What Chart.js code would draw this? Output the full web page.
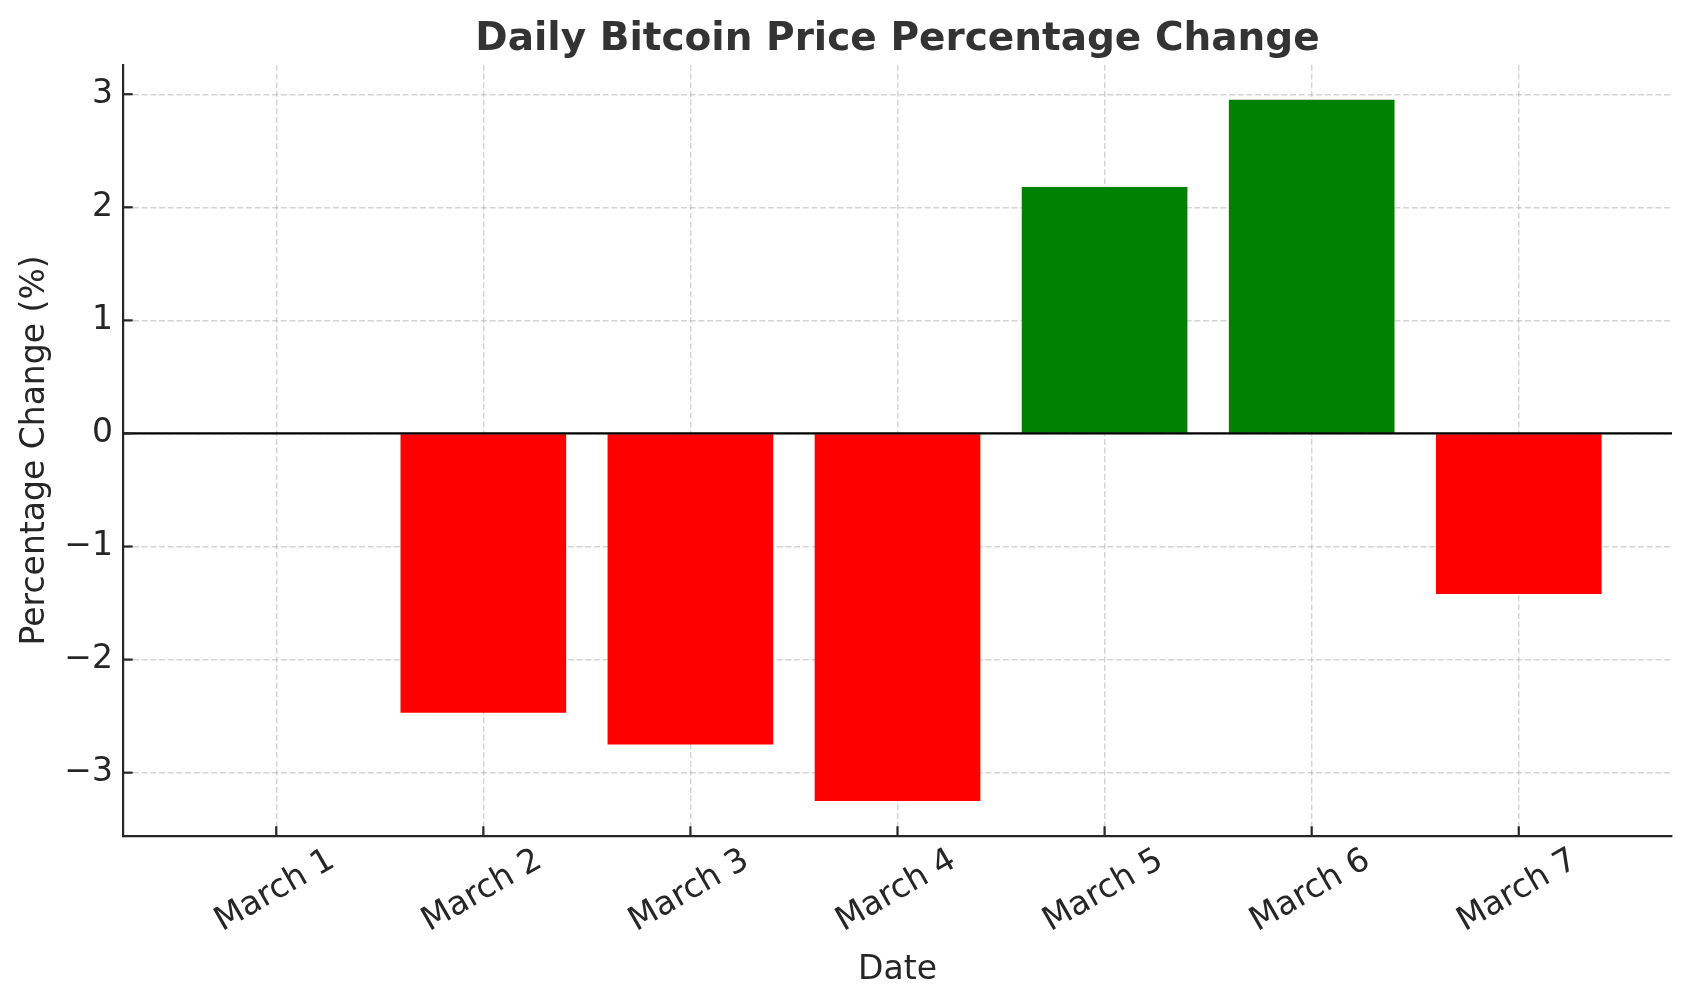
<!DOCTYPE html>
<html>
<head>
<meta charset="utf-8">
<script src="https://cdn.jsdelivr.net/npm/chart.js@4/dist/chart.umd.min.js"></script>
<style>
  html, body { margin: 0; padding: 0; background: #fff; }
  #wrap { width: 1693px; height: 1005px; }
</style>
</head>
<body>
<div id="wrap"><canvas id="btcChart" width="1693" height="1005"></canvas></div>
<script>
const dates = ["March 1", "March 2", "March 3", "March 4", "March 5", "March 6", "March 7"];
const changes = [0, -2.47, -2.75, -3.25, 2.18, 2.95, -1.42];
const yTicks = [-3, -2, -1, 0, 1, 2, 3];

const barColors = changes.map(v => v >= 0 ? "#008000" : "#ff0000");

// matplotlib-style 5% margins around the data
const yLo = Math.min(0, ...changes), yHi = Math.max(0, ...changes);
const yPad = (yHi - yLo) * 0.05;
const xPad = (dates.length - 1 + 0.8) * 0.05;

const FONT = "'DejaVu Sans', 'Liberation Sans', sans-serif";
const ink = "#262626";

const innerTicks = {
  id: "innerTicks",
  afterDraw(chart) {
    const { ctx, chartArea, scales } = chart;
    ctx.save();
    ctx.lineWidth = 2.2;
    // zero line
    const y0 = scales.y.getPixelForValue(0);
    ctx.strokeStyle = "#000";
    ctx.beginPath();
    ctx.moveTo(chartArea.left, y0);
    ctx.lineTo(chartArea.right, y0);
    ctx.stroke();
    ctx.strokeStyle = ink;
    scales.y.ticks.forEach(t => {
      const py = scales.y.getPixelForValue(t.value);
      ctx.beginPath();
      ctx.moveTo(chartArea.left, py);
      ctx.lineTo(chartArea.left + 9.7, py);
      ctx.stroke();
    });
    scales.x.ticks.forEach(t => {
      const px = scales.x.getPixelForValue(t.value);
      ctx.beginPath();
      ctx.moveTo(px, chartArea.bottom);
      ctx.lineTo(px, chartArea.bottom - 9.7);
      ctx.stroke();
    });
    ctx.restore();
  }
};

new Chart(document.getElementById("btcChart"), {
  type: "bar",
  data: {
    datasets: [{
      data: changes.map((v, i) => ({ x: i, y: v })),
      backgroundColor: barColors,
      borderWidth: 0,
      barPercentage: 0.8,
      categoryPercentage: 1.0
    }]
  },
  options: {
    responsive: false,
    animation: false,
    devicePixelRatio: 1,
    layout: { padding: { left: 0, right: 21, top: 0, bottom: 0 } },
    plugins: {
      legend: { display: false },
      tooltip: { enabled: false },
      title: {
        display: true,
        fullSize: false,
        text: "Daily Bitcoin Price Percentage Change",
        color: "#333333",
        font: { family: FONT, size: 39, weight: "bold" },
        padding: { top: 16, bottom: 2 }
      }
    },
    scales: {
      x: {
        type: "linear",
        offset: false,
        z: 1,
        min: -0.4 - xPad,
        max: dates.length - 1 + 0.4 + xPad,
        afterBuildTicks: axis => { axis.ticks = dates.map((_, i) => ({ value: i })); },
        afterFit: axis => { axis.height = 169; },
        grid: { offset: false, color: "rgba(160,160,160,0.45)", lineWidth: 1.4, drawTicks: false },
        border: { display: true, color: ink, width: 2.2, dash: [6, 2.7] },
        ticks: {
          autoSkip: false,
          minRotation: 30,
          maxRotation: 30,
          padding: 5,
          labelOffset: 56,
          color: ink,
          font: { family: FONT, size: 33 },
          callback: v => dates[v]
        },
        title: {
          display: true,
          text: "Date",
          color: ink,
          font: { family: FONT, size: 33 },
          padding: { top: 0, bottom: 15 }
        }
      },
      y: {
        type: "linear",
        z: 1,
        min: yLo - yPad,
        max: yHi + yPad,
        afterBuildTicks: axis => { axis.ticks = yTicks.map(v => ({ value: v })); },
        afterFit: axis => { axis.width = 123; },
        grid: { color: "rgba(160,160,160,0.45)", lineWidth: 1.4, drawTicks: false },
        border: { display: true, color: ink, width: 2.2, dash: [6, 2.7] },
        ticks: {
          padding: 10,
          color: ink,
          font: { family: FONT, size: 33 },
          callback: v => v < 0 ? "\u2212" + Math.abs(v) : String(v)
        },
        title: {
          display: true,
          text: "Percentage Change (%)",
          color: ink,
          font: { family: FONT, size: 33 },
          padding: { top: 16, bottom: 0 }
        }
      }
    }
  },
  plugins: [innerTicks]
});
</script>
</body>
</html>
